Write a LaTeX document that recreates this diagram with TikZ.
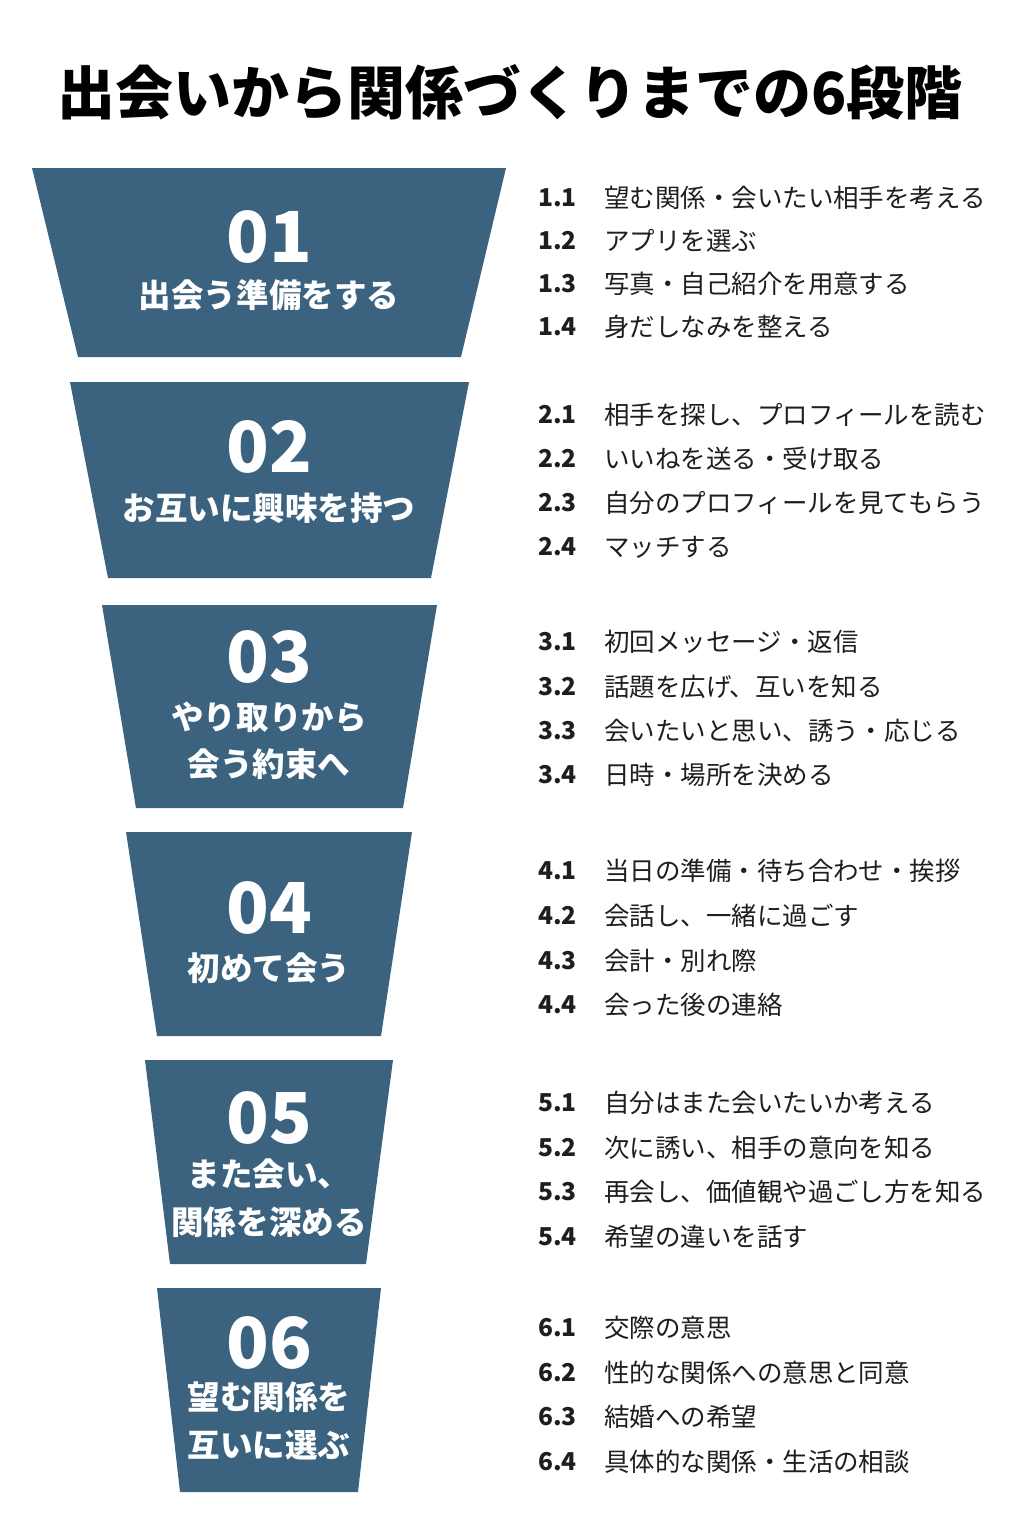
\documentclass[tikz,border=0pt]{standalone}
\usepackage{fontspec}
\setmainfont{Noto Sans CJK JP}
\definecolor{stageblue}{HTML}{3B6380}
\definecolor{inkdark}{HTML}{1E1E1E}
\begin{document}
\begin{tikzpicture}[x=0.02cm,y=-0.02cm,
    stage/.style={fill=stageblue,draw=none},
    stagenum/.style={text=white,font=\bfseries\fontsize{40}{44}\selectfont},
    stagelab/.style={text=white,font=\bfseries\fontsize{18.5}{27}\selectfont,align=center},
    itemnum/.style={anchor=west,text=inkdark,font=\bfseries\fontsize{14}{16}\selectfont},
    itemtxt/.style={anchor=west,text=inkdark,font=\fontsize{14.5}{16}\selectfont}]
   \useasboundingbox[fill=white] (0,0) rectangle (1024,1536);
% Title
   \node (title) [text=black,font=\bfseries\fontsize{33}{36}\selectfont] at (510,92)
        {出会いから関係づくりまでの6段階};
% Funnel stages
   \foreach \i/\tl/\tr/\bl/\br/\yt/\yb/\yn/\yl/\lab in {
        1/32/506/78/461/168/357/237/295/{出会う準備をする},
        2/70/469/108/431/382/578/447/508/{お互いに興味を持つ},
        3/102/437/136/403/605/808/657/741/{やり取りから\\会う約束へ},
        4/126/412/157/381/832/1036/908/968/{初めて会う},
        5/145/393/170/366/1060/1264/1118/1198/{また会い、\\関係を深める},
        6/157/381/180/358/1288/1492/1343/1421/{望む関係を\\互いに選ぶ}}{
     \path [stage] (\tl,\yt) -- (\tr,\yt) -- (\br,\yb) -- (\bl,\yb) -- cycle;
     \node (num\i) [stagenum] at (269,\yn) {0\i};
     \node (lab\i) [stagelab] at (269,\yl) {\lab};
   }
% Steps
   \foreach \k/\y/\t in {1/198/{望む関係・会いたい相手を考える},2/241/{アプリを選ぶ},
        3/284/{写真・自己紹介を用意する},4/327/{身だしなみを整える}}{
     \node (n1\k) [itemnum] at (532,\y) {1.\k};
     \node (t1\k) [itemtxt] at (598,\y) {\t};}
   \foreach \k/\y/\t in {1/415/{相手を探し、プロフィールを読む},2/459/{いいねを送る・受け取る},
        3/503/{自分のプロフィールを見てもらう},4/547/{マッチする}}{
     \node (n2\k) [itemnum] at (532,\y) {2.\k};
     \node (t2\k) [itemtxt] at (598,\y) {\t};}
   \foreach \k/\y/\t in {1/642/{初回メッセージ・返信},2/687/{話題を広げ、互いを知る},
        3/731/{会いたいと思い、誘う・応じる},4/775/{日時・場所を決める}}{
     \node (n3\k) [itemnum] at (532,\y) {3.\k};
     \node (t3\k) [itemtxt] at (598,\y) {\t};}
   \foreach \k/\y/\t in {1/871/{当日の準備・待ち合わせ・挨拶},2/916/{会話し、一緒に過ごす},
        3/961/{会計・別れ際},4/1005/{会った後の連絡}}{
     \node (n4\k) [itemnum] at (532,\y) {4.\k};
     \node (t4\k) [itemtxt] at (598,\y) {\t};}
   \foreach \k/\y/\t in {1/1103/{自分はまた会いたいか考える},2/1148/{次に誘い、相手の意向を知る},
        3/1192/{再会し、価値観や過ごし方を知る},4/1237/{希望の違いを話す}}{
     \node (n5\k) [itemnum] at (532,\y) {5.\k};
     \node (t5\k) [itemtxt] at (598,\y) {\t};}
   \foreach \k/\y/\t in {1/1328/{交際の意思},2/1373/{性的な関係への意思と同意},
        3/1417/{結婚への希望},4/1462/{具体的な関係・生活の相談}}{
     \node (n6\k) [itemnum] at (532,\y) {6.\k};
     \node (t6\k) [itemtxt] at (598,\y) {\t};}
\end{tikzpicture}
\end{document}
